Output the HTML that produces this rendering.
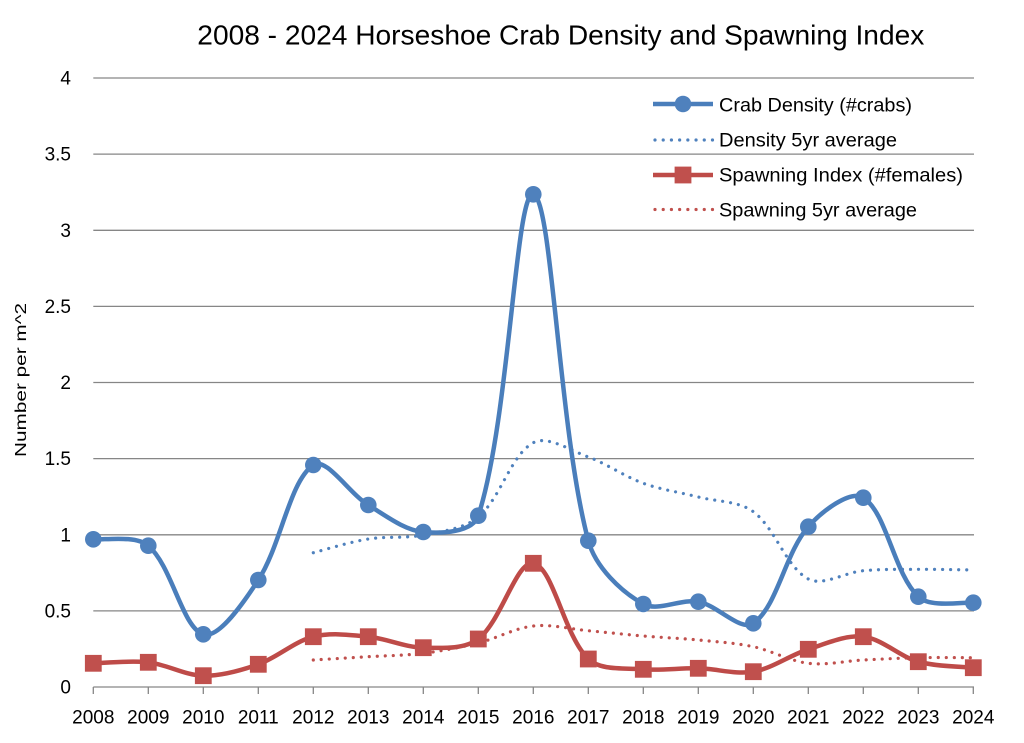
<!DOCTYPE html>
<html>
<head>
<meta charset="utf-8">
<style>
  html,body{margin:0;padding:0;background:#fff;}
  svg{display:block;}
  text{font-family:"Liberation Sans",sans-serif;fill:#000;}
</style>
</head>
<body>
<svg id="c" width="1024" height="743" viewBox="0 0 1024 743" xmlns="http://www.w3.org/2000/svg">
  <rect width="1024" height="743" fill="#fff"/>
  <!-- title -->
  <text x="197.3" y="44.3" font-size="28" textLength="727" lengthAdjust="spacingAndGlyphs">2008 - 2024 Horseshoe Crab Density and Spawning Index</text>

  <!-- gridlines -->
  <g stroke="#868686" stroke-width="1.3">
    <line x1="93.3" y1="78" x2="974" y2="78"/>
    <line x1="93.3" y1="154.1" x2="974" y2="154.1"/>
    <line x1="93.3" y1="230.3" x2="974" y2="230.3"/>
    <line x1="93.3" y1="306.4" x2="974" y2="306.4"/>
    <line x1="93.3" y1="382.5" x2="974" y2="382.5"/>
    <line x1="93.3" y1="458.6" x2="974" y2="458.6"/>
    <line x1="93.3" y1="534.8" x2="974" y2="534.8"/>
    <line x1="93.3" y1="610.9" x2="974" y2="610.9"/>
    <line x1="93.3" y1="687" x2="974" y2="687"/>
  </g>
  <g id="ticks" stroke="#868686" stroke-width="1.3"></g>

  <!-- y labels -->
  <g font-size="19" text-anchor="end">
    <text x="71" y="84.5">4</text>
    <text x="71" y="160.6">3.5</text>
    <text x="71" y="236.8">3</text>
    <text x="71" y="312.9">2.5</text>
    <text x="71" y="389">2</text>
    <text x="71" y="465.1">1.5</text>
    <text x="71" y="541.3">1</text>
    <text x="71" y="617.4">0.5</text>
    <text x="71" y="693.5">0</text>
  </g>

  <!-- x labels -->
  <g font-size="19" text-anchor="middle">
    <text x="93.3" y="723.3">2008</text>
    <text x="148.3" y="723.3">2009</text>
    <text x="203.3" y="723.3">2010</text>
    <text x="258.3" y="723.3">2011</text>
    <text x="313.3" y="723.3">2012</text>
    <text x="368.3" y="723.3">2013</text>
    <text x="423.3" y="723.3">2014</text>
    <text x="478.3" y="723.3">2015</text>
    <text x="533.3" y="723.3">2016</text>
    <text x="588.3" y="723.3">2017</text>
    <text x="643.3" y="723.3">2018</text>
    <text x="698.3" y="723.3">2019</text>
    <text x="753.3" y="723.3">2020</text>
    <text x="808.3" y="723.3">2021</text>
    <text x="863.3" y="723.3">2022</text>
    <text x="918.3" y="723.3">2023</text>
    <text x="973.3" y="723.3">2024</text>
  </g>

  <!-- y axis title -->
  <text transform="translate(26,380) rotate(-90)" font-size="15.5" text-anchor="middle" textLength="154" lengthAdjust="spacingAndGlyphs">Number per m^2</text>

  <!-- series -->
  <path id="davg" fill="none" stroke="#4F81BD" stroke-width="3.2" stroke-linecap="round" stroke-dasharray="0.01 8"/>
  <path id="savg" fill="none" stroke="#C0504D" stroke-width="3.2" stroke-linecap="round" stroke-dasharray="0.01 8"/>
  <path id="crab" fill="none" stroke="#4A7EBB" stroke-width="4.5" stroke-linejoin="round"/>
  <path id="spawn" fill="none" stroke="#BE4B48" stroke-width="4.5" stroke-linejoin="round"/>
  <g id="cm" fill="#4F81BD"></g>
  <g id="sm" fill="#C0504D"></g>

  <!-- legend -->
  <line x1="653" y1="104" x2="713" y2="104" stroke="#4A7EBB" stroke-width="4.5"/>
  <circle cx="683" cy="104" r="8.3" fill="#4F81BD"/>
  <line x1="655" y1="140" x2="713" y2="140" stroke="#4F81BD" stroke-width="3.2" stroke-linecap="round" stroke-dasharray="0.01 8.2"/>
  <line x1="653" y1="175" x2="713" y2="175" stroke="#BE4B48" stroke-width="4.5"/>
  <rect x="674.6" y="166.6" width="16.8" height="16.8" fill="#C0504D"/>
  <line x1="655" y1="209.5" x2="713" y2="209.5" stroke="#C0504D" stroke-width="3.2" stroke-linecap="round" stroke-dasharray="0.01 8.2"/>
  <g font-size="19.5">
    <text x="719" y="111.5" textLength="193" lengthAdjust="spacingAndGlyphs">Crab Density (#crabs)</text>
    <text x="719" y="146.7" textLength="178" lengthAdjust="spacingAndGlyphs">Density 5yr average</text>
    <text x="719" y="181.7" textLength="244" lengthAdjust="spacingAndGlyphs">Spawning Index (#females)</text>
    <text x="719" y="216.7" textLength="198" lengthAdjust="spacingAndGlyphs">Spawning 5yr average</text>
  </g>
</svg>
<script>
(function(){
  var NS="http://www.w3.org/2000/svg";
  function X(i){return 93.3+55*i;}
  var crab=[539.3,545.7,634.3,580,465,505,532,515.7,194.3,540.7,604,601.7,623.3,526.7,497.7,596.7,602.7];
  var spawn=[663.3,662.3,675.7,664.3,636.7,636.7,647.7,639,563.3,659,669.3,668.3,671.7,649.3,636.7,661.7,667.7];
  var davg=[552.7,539,535,517,442.7,457,483.3,497,511.7,579,570.7,569.3,570];
  var savg=[660,656.7,653.3,643,626,630.7,636,640,646.7,663.3,660,657.7,657.7];
  function dist(ax,ay,bx,by){return Math.sqrt((ax-bx)*(ax-bx)+(ay-by)*(ay-by));}
  function smooth(xs,ys){
    var n=xs.length,d="M"+xs[0]+","+ys[0];
    for(var i=0;i<n-1;i++){
      var p0=i>0?i-1:i,p3=i+2<n?i+2:i+1;
      var d01=dist(xs[p0],ys[p0],xs[i],ys[i]);
      var d12=dist(xs[i],ys[i],xs[i+1],ys[i+1]);
      var d23=dist(xs[i+1],ys[i+1],xs[p3],ys[p3]);
      var f1=(i>0)?d12/(d01+d12)/3:1/6;
      var f2=(i+2<n)?d12/(d12+d23)/3:1/6;
      var c1x=xs[i]+(xs[i+1]-xs[p0])*f1,c1y=ys[i]+(ys[i+1]-ys[p0])*f1;
      var c2x=xs[i+1]-(xs[p3]-xs[i])*f2,c2y=ys[i+1]-(ys[p3]-ys[i])*f2;
      d+=" C"+c1x.toFixed(2)+","+c1y.toFixed(2)+" "+c2x.toFixed(2)+","+c2y.toFixed(2)+" "+xs[i+1].toFixed(2)+","+ys[i+1];
    }
    return d;
  }
  var xa=[],xb=[];
  for(var i=0;i<17;i++)xa.push(X(i));
  for(var i=4;i<17;i++)xb.push(X(i));
  document.getElementById("crab").setAttribute("d",smooth(xa,crab));
  document.getElementById("spawn").setAttribute("d",smooth(xa,spawn));
  document.getElementById("davg").setAttribute("d",smooth(xb,davg));
  document.getElementById("savg").setAttribute("d",smooth(xb,savg));
  var cm=document.getElementById("cm"),sm=document.getElementById("sm"),tk=document.getElementById("ticks");
  for(var i=0;i<17;i++){
    var c=document.createElementNS(NS,"circle");
    c.setAttribute("cx",X(i));c.setAttribute("cy",crab[i]);c.setAttribute("r",8.3);
    cm.appendChild(c);
    var r=document.createElementNS(NS,"rect");
    r.setAttribute("x",X(i)-8.4);r.setAttribute("y",spawn[i]-8.4);
    r.setAttribute("width",16.8);r.setAttribute("height",16.8);
    sm.appendChild(r);
    var l=document.createElementNS(NS,"line");
    l.setAttribute("x1",X(i));l.setAttribute("x2",X(i));
    l.setAttribute("y1",687);l.setAttribute("y2",694);
    tk.appendChild(l);
  }
})();
</script>
</body>
</html>
